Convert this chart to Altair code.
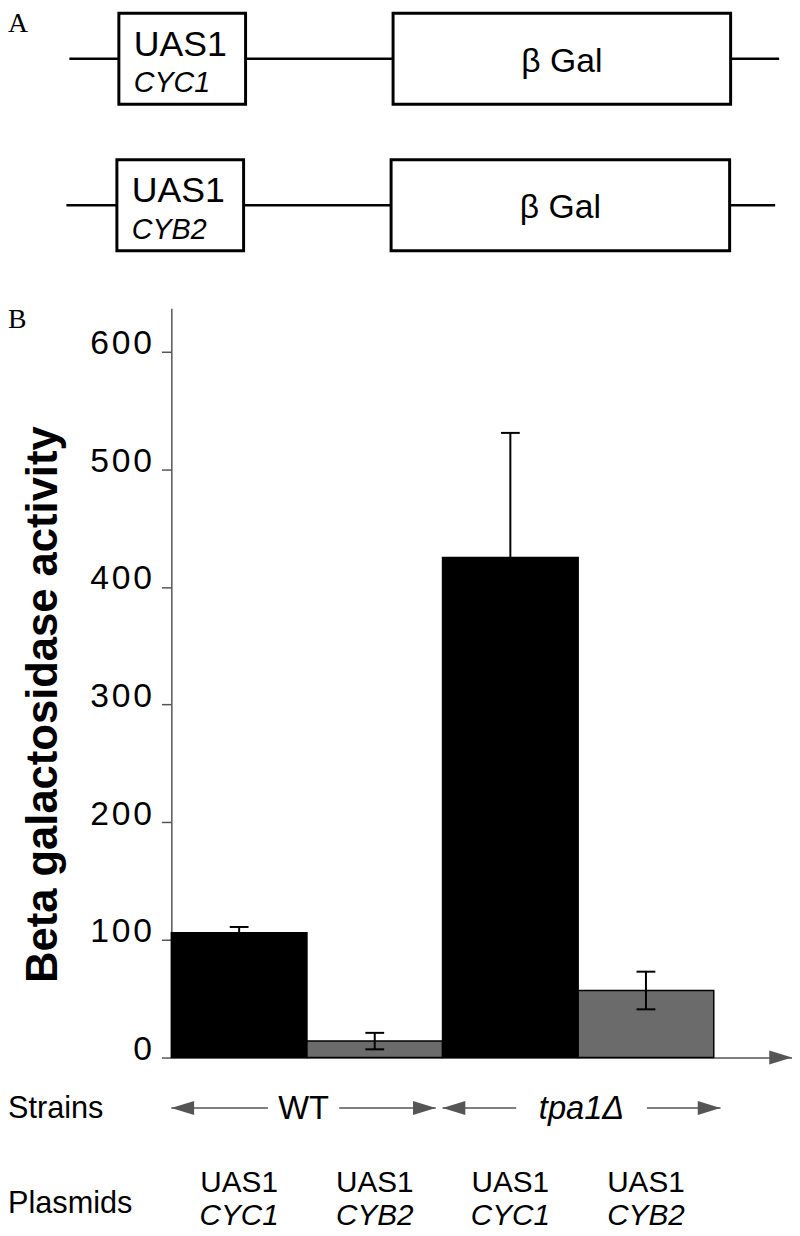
import altair as alt
import pandas as pd

# ---------------- Panel A: reporter constructs ----------------
construct_promoter = ["CYC1", "CYB2"]
construct_start = [70, 67]
segment_kind = ["line", "UAS", "line", "reporter", "line"]
segment_label = ["", "UAS1", "", "β Gal", ""]
segment_len_cyc1 = [50, 128, 149, 341, 49]
segment_len_cyb2 = [51, 128, 149, 342, 46]

# ---------------- Panel B: beta-galactosidase activity ----------------
strains = ["WT", "WT", "tpa1Δ", "tpa1Δ"]
plasmid_uas = ["UAS1", "UAS1", "UAS1", "UAS1"]
plasmid_promoter = ["CYC1", "CYB2", "CYC1", "CYB2"]
activity = [106, 14, 425, 57]
activity_err = [5, 7, 106, 16]
y_ticks = [0, 100, 200, 300, 400, 500, 600]
strain_names = ["WT", "tpa1Δ"]
strain_from = [0.0, 2.0]
strain_to = [1.95, 4.05]

FONT = "Liberation Sans"
GREY = "#555555"

# ---- build panel A tables ----
rows = []
for r, (prom, start, lens) in enumerate(
    zip(construct_promoter, construct_start, [segment_len_cyc1, segment_len_cyb2])
):
    pos = start
    for kind, lab, L in zip(segment_kind, segment_label, lens):
        rows.append(dict(row=r, promoter=prom, kind=kind, label=lab,
                         x0=pos, x1=pos + L, xm=pos + L / 2,
                         y0=r - 0.31, y1=r + 0.31))
        pos += L
seg = pd.DataFrame(rows)
seg_lines = seg[seg.kind == "line"]
seg_boxes = seg[seg.kind != "line"]
seg_uas = seg[seg.kind == "UAS"]
seg_rep = seg[seg.kind == "reporter"]

ax_x = alt.Scale(domain=[0, 800], range=[-173, 627], nice=False, zero=False)
ax_y = alt.Scale(domain=[0, 1], range=[-252, -104], nice=False, zero=False)

a_lines = alt.Chart(seg_lines).mark_rule(color="black", strokeWidth=2.5).encode(
    x=alt.X("x0:Q", scale=ax_x, axis=None), x2="x1:Q",
    y=alt.Y("row:Q", scale=ax_y, axis=None))
a_boxes = alt.Chart(seg_boxes).mark_rect(fill="white", stroke="black", strokeWidth=3).encode(
    x=alt.X("x0:Q", scale=ax_x, axis=None), x2="x1:Q",
    y=alt.Y("y0:Q", scale=ax_y, axis=None), y2="y1:Q")
a_uas = alt.Chart(seg_uas).mark_text(align="left", baseline="alphabetic", dx=15, dy=-3,
                                     fontSize=36, font=FONT, color="black").encode(
    x=alt.X("x0:Q", scale=ax_x, axis=None), y=alt.Y("row:Q", scale=ax_y, axis=None),
    text="label:N")
a_prom = alt.Chart(seg_uas).mark_text(align="left", baseline="alphabetic", dx=15, dy=34,
                                      fontSize=29, font=FONT, fontStyle="italic",
                                      color="black").encode(
    x=alt.X("x0:Q", scale=ax_x, axis=None), y=alt.Y("row:Q", scale=ax_y, axis=None),
    text="promoter:N")
a_rep = alt.Chart(seg_rep).mark_text(align="center", baseline="alphabetic", dy=13,
                                     fontSize=34, font=FONT, color="black").encode(
    x=alt.X("xm:Q", scale=ax_x, axis=None), y=alt.Y("row:Q", scale=ax_y, axis=None),
    text="label:N")
panel_a = alt.layer(a_lines, a_boxes, a_uas, a_prom, a_rep)

# ---- panel B ----
df = pd.DataFrame({
    "i": range(4), "strain": strains, "uas": plasmid_uas, "promoter": plasmid_promoter,
    "activity": activity, "err": activity_err,
})
df["x0"] = df["i"]
df["x1"] = df["i"] + 1
df["xm"] = df["i"] + 0.5
df["lo"] = df["activity"] - df["err"]
df["hi"] = df["activity"] + df["err"]
df["base"] = 0

x_scale = alt.Scale(domain=[0, 4.577], nice=False, zero=False)
y_scale = alt.Scale(domain=[0, 637], nice=False, zero=True)

y_axis = alt.Axis(values=y_ticks, tickSize=10, tickWidth=1.5, tickColor=GREY,
                  domainColor=GREY, domainWidth=1.5, grid=False,
                  labelFontSize=34, labelFont=FONT, labelColor="black", labelPadding=10,
                  labelBaseline="alphabetic", labelOffset=2, labelFlush=False,
                  labelOverlap=False,
                  labelExpr="join(split(datum.label, ''), '\u200a')",
                  title="Beta galactosidase activity", titleFont=FONT, titleFontSize=44,
                  titleFontWeight="bold", titleColor="black", titleAngle=270,
                  titleX=-116, titleY=400, titleAlign="center", titleBaseline="alphabetic")
x_axis = alt.Axis(domain=True, domainColor=GREY, domainWidth=1.5, ticks=False,
                  labels=False, grid=False, title=None)

bars = alt.Chart(df).mark_rect(stroke="black", strokeWidth=1.5).encode(
    x=alt.X("x0:Q", scale=x_scale, axis=x_axis), x2="x1:Q",
    y=alt.Y("activity:Q", scale=y_scale, axis=y_axis), y2="base:Q",
    color=alt.Color("promoter:N",
                    scale=alt.Scale(domain=["CYC1", "CYB2"], range=["#000000", "#6b6b6b"]),
                    legend=None))
stems = alt.Chart(df).mark_rule(color="black", strokeWidth=2).encode(
    x="xm:Q", y="lo:Q", y2="hi:Q")
cap_hi = alt.Chart(df).mark_rule(color="black", strokeWidth=2, xOffset=-9.5, x2Offset=9.5).encode(
    x="xm:Q", x2="xm:Q", y="hi:Q")
cap_lo = alt.Chart(df).mark_rule(color="black", strokeWidth=2, xOffset=-9.5, x2Offset=9.5).encode(
    x="xm:Q", x2="xm:Q", y="lo:Q")

RIGHT_HEAD = "M 0 0 L -2 -0.61 L -2 0.61 Z"
LEFT_HEAD = "M 0 0 L 2 -0.61 L 2 0.61 Z"

one = pd.DataFrame({"k": [0]})
axis_arrow = alt.Chart(one).mark_point(shape=RIGHT_HEAD, size=529, filled=True,
                                       color=GREY, opacity=1, strokeWidth=0).encode(
    x=alt.value(627), y=alt.value(757))

strain_df = pd.DataFrame({"strain": strain_names, "from": strain_from, "to": strain_to})
strain_df["center"] = (strain_df["from"] + strain_df["to"]) / 2
strain_gap = {"WT": 36, "tpa1Δ": 66}
strain_italic = {"WT": "normal", "tpa1Δ": "italic"}
STRAIN_Y = 808
strain_layers = []
for s in strain_names:
    sd = strain_df[strain_df.strain == s]
    g = strain_gap[s]
    strain_layers += [
        alt.Chart(sd).mark_rule(color=GREY, strokeWidth=1.5, x2Offset=-g).encode(
            x="from:Q", x2="center:Q", y=alt.value(STRAIN_Y)),
        alt.Chart(sd).mark_rule(color=GREY, strokeWidth=1.5, xOffset=g).encode(
            x="center:Q", x2="to:Q", y=alt.value(STRAIN_Y)),
        alt.Chart(sd).mark_point(shape=LEFT_HEAD, size=529, filled=True, color=GREY,
                                 opacity=1, strokeWidth=0).encode(
            x="from:Q", y=alt.value(STRAIN_Y)),
        alt.Chart(sd).mark_point(shape=RIGHT_HEAD, size=529, filled=True, color=GREY,
                                 opacity=1, strokeWidth=0).encode(
            x="to:Q", y=alt.value(STRAIN_Y)),
        alt.Chart(sd).mark_text(align="center", baseline="alphabetic", fontSize=33,
                                font=FONT, fontStyle=strain_italic[s], color="black").encode(
            x="center:Q", y=alt.value(STRAIN_Y + 11), text="strain:N"),
    ]

uas_text = alt.Chart(df).mark_text(align="center", baseline="alphabetic", fontSize=30,
                                   font=FONT, color="black").encode(
    x="xm:Q", y=alt.value(893), text="uas:N")
prom_text = alt.Chart(df).mark_text(align="center", baseline="alphabetic", fontSize=30,
                                    font=FONT, fontStyle="italic", color="black").encode(
    x="xm:Q", y=alt.value(926), text="promoter:N")

def side_label(txt, y, size=31, font=FONT):
    return alt.Chart(pd.DataFrame({"t": [txt]})).mark_text(
        align="left", baseline="alphabetic", fontSize=size, font=font, color="black").encode(
        x=alt.value(-165), y=alt.value(y), text="t:N")

labels = [
    side_label("Strains", 818),
    side_label("Plasmids", 914),
    side_label("A", -279, 28, "Liberation Serif"),
    side_label("B", 20, 28, "Liberation Serif"),
]

panel_b = alt.layer(bars, stems, cap_hi, cap_lo, axis_arrow, *strain_layers,
                    uas_text, prom_text, *labels)

chart = alt.layer(panel_a, panel_b).resolve_scale(
    x="independent", y="independent"
).properties(
    width=627, height=757,
    padding={"left": 165, "top": 297, "right": 0, "bottom": 174},
    autosize=alt.AutoSizeParams(type="none"),
).configure_view(stroke=None)

chart.save("out.html", embed_options={"renderer": "svg", "actions": False})
